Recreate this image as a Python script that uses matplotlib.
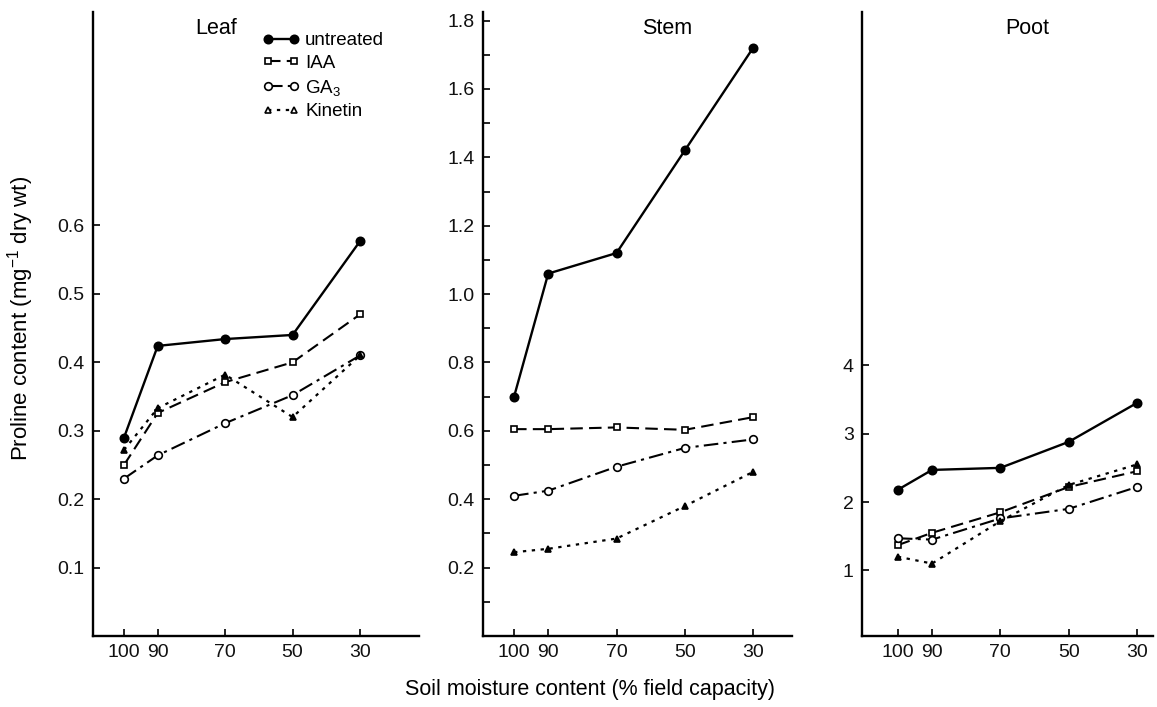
import matplotlib.pyplot as plt
from matplotlib.lines import Line2D
from matplotlib.ticker import FixedLocator, FuncFormatter

plt.rcParams['font.family'] = ['Liberation Sans', 'DejaVu Sans']
plt.rcParams['mathtext.fontset'] = 'custom'
plt.rcParams['mathtext.rm'] = 'Liberation Sans'
plt.rcParams['mathtext.it'] = 'Liberation Sans'

# soil moisture (% field capacity)
moisture = [100, 90, 70, 50, 30]

# proline content per organ and treatment
leaf_untreated = [0.29, 0.424, 0.434, 0.44, 0.577]
leaf_iaa = [0.25, 0.326, 0.371, 0.40, 0.47]
leaf_ga3 = [0.23, 0.264, 0.311, 0.352, 0.41]
leaf_kinetin = [0.272, 0.333, 0.382, 0.32, 0.41]

stem_untreated = [0.70, 1.06, 1.12, 1.42, 1.72]
stem_iaa = [0.605, 0.605, 0.61, 0.603, 0.64]
stem_ga3 = [0.41, 0.425, 0.495, 0.55, 0.575]
stem_kinetin = [0.245, 0.255, 0.285, 0.38, 0.48]

root_untreated = [2.18, 2.47, 2.5, 2.88, 3.45]
root_iaa = [1.37, 1.55, 1.85, 2.22, 2.45]
root_ga3 = [1.47, 1.45, 1.76, 1.9, 2.22]
root_kinetin = [1.2, 1.1, 1.72, 2.25, 2.55]

treatments = ['untreated', 'IAA', 'GA$_3$', 'Kinetin']
styles = [
    dict(ls='-', marker='o', mfc='black', ms=6, lw=1.7),
    dict(ls=(0, (6, 3)), marker='s', mfc='white', ms=5, lw=1.5),
    dict(ls=(0, (7, 2.5, 1.5, 2.5)), marker='o', mfc='white', ms=5.5, lw=1.5),
    dict(ls=(0, (1.5, 2.5)), marker='^', mfc='black', ms=5, lw=1.6),
]

fig = plt.figure(figsize=(11.57, 7.07), dpi=100)

def px_axes(x0, x1, y0=12, y1=636):
    return fig.add_axes([x0 / 1157, 1 - y1 / 707, (x1 - x0) / 1157, (y1 - y0) / 707])

panels = [
    (px_axes(93, 419), [leaf_untreated, leaf_iaa, leaf_ga3, leaf_kinetin],
     (109.2, 12.5), (0, 0.912), [0.1, 0.2, 0.3, 0.4, 0.5, 0.6], 'Leaf', 216),
    (px_axes(483, 792), [stem_untreated, stem_iaa, stem_ga3, stem_kinetin],
     (109.1, 18.6), (0, 1.825), [i / 10 for i in range(1, 19)], 'Stem', 667),
    (px_axes(862, 1153), [root_untreated, root_iaa, root_ga3, root_kinetin],
     (110.5, 25.3), (0.04, 9.17), [1, 2, 3, 4], 'Poot', 1027),
]

for ax, series, xlim, ylim, yticks, title, title_x in panels:
    for vals, label, st in zip(series, treatments, styles):
        ax.plot(moisture, vals, color='black', mec='black', mew=1.2,
                label=label, **st)
    ax.set_xlim(*xlim)
    ax.set_ylim(*ylim)
    ax.set_xticks(moisture)
    ax.yaxis.set_major_locator(FixedLocator(yticks))
    for side in ['top', 'right']:
        ax.spines[side].set_visible(False)
    for side in ['left', 'bottom']:
        ax.spines[side].set_linewidth(1.7)
    ax.tick_params(direction='in', length=5, width=1.3, labelsize=14,
                   pad=6, colors='#111111')
    fig.text(title_x / 1157, 1 - 29 / 707, title, ha='center', va='center',
             fontsize=15.5)

# stem axis: ticks every 0.1, labels every 0.2
stem_ax = panels[1][0]
stem_ax.yaxis.set_major_formatter(
    FuncFormatter(lambda v, p: f'{v:.1f}' if round(v * 10) % 2 == 0 else ''))
panels[0][0].yaxis.set_major_formatter(FuncFormatter(lambda v, p: f'{v:.1f}'))

# legend handles: kinetin shown with open triangles in the key
handles = []
for label, st in zip(treatments, styles):
    st = dict(st)
    if label == 'Kinetin':
        st['mfc'] = 'white'
    handles.append(Line2D([], [], color='black', mec='black', mew=1.2, **st))
panels[0][0].legend(handles, treatments, loc='upper left',
                    bbox_to_anchor=(262 / 1157, 1 - 32 / 707),
                    bbox_transform=fig.transFigure, frameon=False, numpoints=2,
                    fontsize=13.5, handlelength=2.0, handletextpad=0.3,
                    labelspacing=0.3, borderaxespad=0, borderpad=0)

fig.text(21 / 1157, 1 - 318 / 707, 'Proline content (mg$^{-1}$ dry wt)',
         rotation=90, ha='center', va='center', fontsize=16)
fig.text(590 / 1157, 1 - 690 / 707, 'Soil moisture content (% field capacity)',
         ha='center', va='center', fontsize=15.5)

fig.savefig('out.png', dpi=100)
